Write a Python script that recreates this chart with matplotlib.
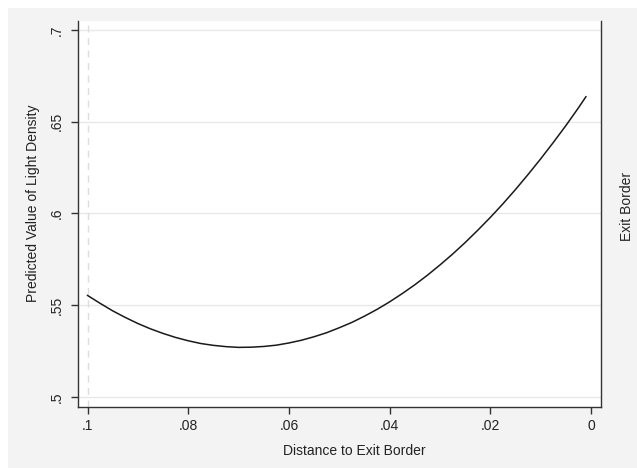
import matplotlib.pyplot as plt
from matplotlib.patches import Rectangle

# distance to exit border (x) and predicted light density (y)
distance = [0.1000, 0.0975, 0.0950, 0.0925, 0.0900, 0.0875, 0.0850, 0.0825, 0.0800, 0.0775,
            0.0750, 0.0725, 0.0700, 0.0675, 0.0650, 0.0625, 0.0600, 0.0575, 0.0550, 0.0525,
            0.0500, 0.0475, 0.0450, 0.0425, 0.0400, 0.0375, 0.0350, 0.0325, 0.0300, 0.0275,
            0.0250, 0.0225, 0.0200, 0.0175, 0.0150, 0.0125, 0.0100, 0.0075, 0.0050, 0.0025,
            0.0010]
density = [0.5553, 0.5510, 0.5469, 0.5433, 0.5400, 0.5371, 0.5346, 0.5324, 0.5306, 0.5291,
           0.5281, 0.5274, 0.5270, 0.5271, 0.5275, 0.5282, 0.5294, 0.5309, 0.5328, 0.5350,
           0.5377, 0.5406, 0.5440, 0.5477, 0.5518, 0.5563, 0.5611, 0.5663, 0.5719, 0.5778,
           0.5841, 0.5908, 0.5978, 0.6052, 0.6130, 0.6212, 0.6297, 0.6386, 0.6478, 0.6575,
           0.6636]

xticks = [0.1, 0.08, 0.06, 0.04, 0.02, 0]
xticklabels = [".1", ".08", ".06", ".04", ".02", "0"]
yticks = [0.5, 0.55, 0.6, 0.65, 0.7]
yticklabels = [".5", ".55", ".6", ".65", ".7"]
border_x = 0.1

plt.rcParams['font.family'] = ['Liberation Sans', 'DejaVu Sans']

W, H = 637, 468
fig = plt.figure(figsize=(W / 100, H / 100), dpi=100, facecolor="white")
# stata-ish gray backdrop (image is cropped so a white sliver shows top/left)
fig.patches.append(Rectangle((8 / W, 0), 1, 1 - 8 / H, transform=fig.transFigure,
                             facecolor="#f3f3f3", edgecolor="none", zorder=-10))

ax = fig.add_axes([78 / W, (H - 407) / H, (601 - 78) / W, (407 - 21) / H])
ax.set_facecolor("white")

ax.axvline(border_x, color="#dddddd", lw=1, ls=(0, (5, 4)), zorder=1)
ax.plot(distance, density, color="#1a1a1a", lw=1.1, zorder=3)

ax.set_xlim(0.1019, -0.002)
ax.set_ylim(0.4945, 0.7049)
ax.set_xticks(xticks)
ax.set_xticklabels(xticklabels)
ax.set_yticks(yticks)
ax.set_yticklabels(yticklabels, rotation=90, va="center")
ax.grid(axis="y", color="#e8e8e8", lw=1)
ax.set_axisbelow(True)

for s in ["left", "bottom", "right"]:
    ax.spines[s].set_color("#333333")
    ax.spines[s].set_linewidth(1)
ax.spines["top"].set_visible(False)
ax.tick_params(axis="both", direction="out", length=5, width=1, color="#333333",
               labelsize=10, labelcolor="#222222", pad=4)
ax.tick_params(axis="y", pad=5)

ax.set_xlabel("Distance to Exit Border", fontsize=10, color="#222222", va="center")
ax.xaxis.set_label_coords((354 - 78) / 523, (407 - 451) / 386)
ax.set_ylabel("Predicted Value of Light Density", fontsize=10, color="#222222",
              va="center", ha="center")
ax.yaxis.set_label_coords((33 - 78) / 523, (407 - 203) / 386)
fig.text(627 / W, (H - 206) / H, "Exit Border", rotation=90, ha="center", va="center",
         fontsize=10, color="#222222")

fig.savefig("out.png", dpi=100, facecolor=fig.get_facecolor())
